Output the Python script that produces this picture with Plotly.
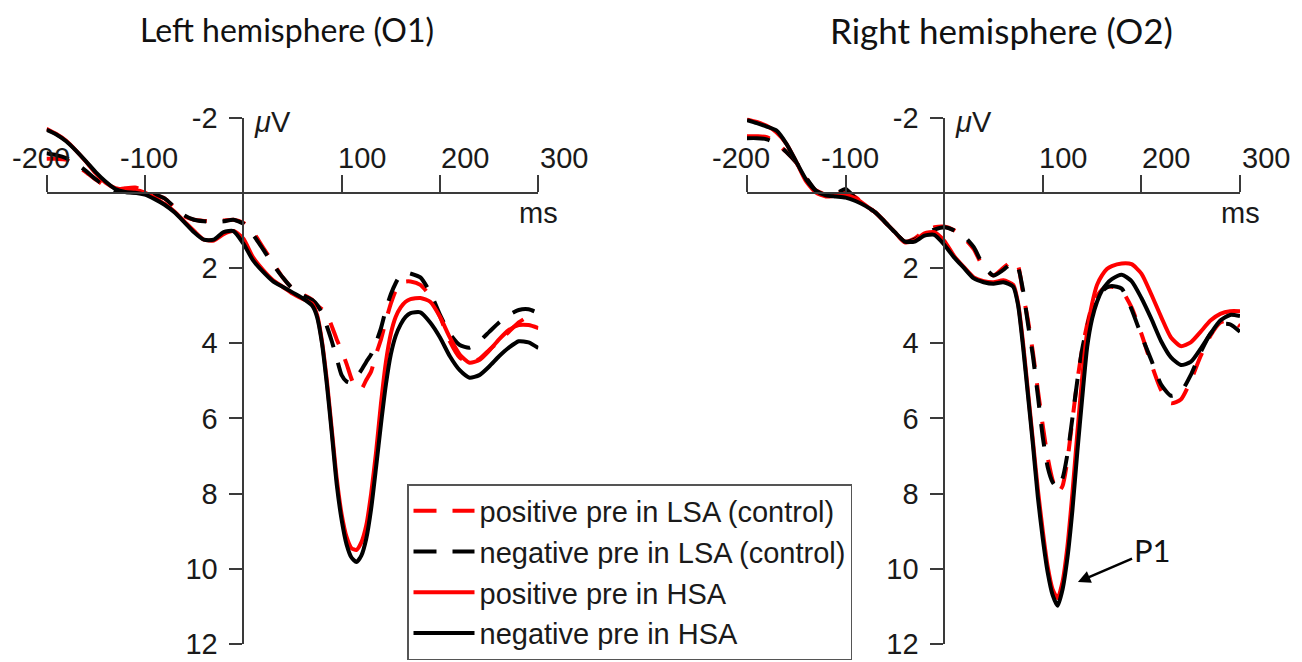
import plotly.graph_objects as go

# ---------------- data ----------------
time_ms = [-200, -190, -180, -170, -160, -150, -140, -130, -120, -110, -100, -90, -80, -70, -60, -50, -40, -30,
           -20, -10, 0, 10, 20, 30, 40, 50, 60,
           70, 75, 80, 85, 90, 95, 100, 105, 110, 115, 120, 125, 130, 135, 140, 145, 150, 155, 160, 165,
           170, 180, 190, 200, 210, 220, 230, 240, 250, 260, 270, 280, 290, 300]

series_names = ["positive pre in LSA (control)", "negative pre in LSA (control)",
                "positive pre in HSA", "negative pre in HSA"]

# Left hemisphere (O1)
left_pos_lsa = [-0.90, -0.90, -0.88, -0.72, -0.55, -0.35, -0.17, -0.08, -0.12, -0.14, -0.05, 0.06, 0.15, 0.40, 0.62,
                0.72, 0.75, 0.76, 0.74, 0.72, 0.80, 1.05, 1.45, 1.85, 2.25, 2.55, 2.70,
                2.85, 3.00, 3.10, 3.25, 3.55, 3.90, 4.20, 4.55, 4.95, 5.20, 5.22, 4.98, 4.75, 4.30, 3.90, 3.40,
                2.95, 2.60, 2.42, 2.36,
                2.36, 2.45, 2.75, 3.30, 3.95, 4.38, 4.52, 4.42, 4.18, 3.95, 3.70, 3.45, 3.30, 3.32]
left_neg_lsa = [-1.05, -1.00, -0.92, -0.78, -0.58, -0.36, -0.18, -0.05, -0.02, 0.00, 0.03, 0.05, 0.15, 0.38, 0.60,
                0.72, 0.76, 0.78, 0.76, 0.72, 0.82, 1.12, 1.50, 1.90, 2.25, 2.55, 2.72,
                2.85, 2.98, 3.20, 3.55, 3.95, 4.40, 4.85, 5.02, 5.05, 4.90, 4.72, 4.50, 4.30, 3.98, 3.60, 3.10,
                2.70, 2.40, 2.18, 2.12,
                2.15, 2.25, 2.65, 3.25, 3.75, 4.05, 4.12, 3.95, 3.70, 3.45, 3.25, 3.12, 3.10, 3.20]
left_pos_hsa = [-1.70, -1.56, -1.38, -1.12, -0.83, -0.52, -0.27, -0.12, -0.08, -0.07, 0.00, 0.14, 0.30, 0.50, 0.76,
                1.02, 1.25, 1.27, 1.10, 1.02, 1.22, 1.72, 2.05, 2.32, 2.50, 2.68, 2.82,
                2.95, 3.25, 3.95, 5.00, 6.30, 7.60, 8.55, 9.15, 9.45, 9.50, 9.30, 8.85, 8.00, 6.90, 5.60, 4.50,
                3.75, 3.30, 3.05, 2.90,
                2.83, 2.80, 2.90, 3.30, 3.85, 4.30, 4.52, 4.45, 4.20, 3.90, 3.65, 3.52, 3.52, 3.60]
left_neg_hsa = [-1.67, -1.55, -1.37, -1.12, -0.84, -0.55, -0.30, -0.10, -0.02, 0.00, 0.05, 0.17, 0.32, 0.52, 0.78,
                1.05, 1.25, 1.25, 1.05, 1.02, 1.35, 1.80, 2.10, 2.35, 2.50, 2.65, 2.80,
                3.00, 3.30, 4.00, 5.10, 6.40, 7.75, 8.70, 9.35, 9.70, 9.82, 9.65, 9.20, 8.40, 7.30, 6.15, 5.10,
                4.30, 3.80, 3.50, 3.30,
                3.20, 3.18, 3.45, 3.85, 4.35, 4.72, 4.92, 4.85, 4.62, 4.35, 4.12, 3.95, 3.98, 4.13]

# Right hemisphere (O2)
right_pos_lsa = [-1.50, -1.50, -1.48, -1.32, -1.08, -0.80, -0.38, -0.06, 0.05, 0.04, -0.02, 0.12, 0.33, 0.52, 0.78,
                 1.05, 1.30, 1.22, 1.02, 0.92, 0.90, 1.00, 1.20, 1.50, 2.00, 2.20, 2.00,
                 1.80, 1.95, 2.70, 3.40, 4.25, 5.25, 6.20, 7.05, 7.65, 7.98, 7.80, 7.10, 6.05, 5.00, 4.15, 3.50,
                 3.00, 2.75, 2.58, 2.50,
                 2.50, 2.60, 3.05, 3.75, 4.55, 5.25, 5.60, 5.50, 5.00, 4.35, 3.80, 3.45, 3.40, 3.55]
right_neg_lsa = [-1.45, -1.45, -1.42, -1.30, -1.08, -0.80, -0.40, -0.05, 0.06, 0.02, -0.10, 0.15, 0.35, 0.52, 0.78,
                 1.05, 1.30, 1.25, 1.08, 0.98, 0.92, 1.00, 1.15, 1.45, 1.95, 2.20, 2.05,
                 1.85, 2.00, 2.60, 3.50, 4.35, 5.40, 6.50, 7.30, 7.70, 7.85, 7.60, 6.95, 6.00, 5.00, 4.15, 3.55,
                 3.10, 2.82, 2.62, 2.52,
                 2.48, 2.55, 3.10, 3.80, 4.45, 5.10, 5.40, 5.30, 4.85, 4.25, 3.75, 3.50, 3.50, 3.70]
right_pos_hsa = [-1.95, -1.88, -1.78, -1.60, -1.30, -0.82, -0.30, 0.00, 0.10, 0.08, 0.06, 0.15, 0.33, 0.52, 0.78,
                 1.05, 1.32, 1.28, 1.08, 1.05, 1.28, 1.68, 1.98, 2.25, 2.35, 2.38, 2.33,
                 2.45, 2.95, 4.00, 5.30, 6.60, 7.90, 9.00, 9.95, 10.55, 10.78, 10.35, 9.40, 8.00, 6.40, 4.90, 3.70,
                 2.95, 2.45, 2.20, 2.03,
                 1.95, 1.88, 1.90, 2.15, 2.70, 3.30, 3.85, 4.08, 3.98, 3.70, 3.40, 3.22, 3.15, 3.15]
right_neg_hsa = [-1.93, -1.85, -1.76, -1.65, -1.30, -0.82, -0.35, -0.05, 0.07, 0.10, 0.13, 0.22, 0.35, 0.52, 0.78,
                 1.05, 1.30, 1.30, 1.14, 1.12, 1.38, 1.72, 2.00, 2.28, 2.38, 2.42, 2.38,
                 2.50, 3.00, 4.10, 5.40, 6.70, 8.10, 9.20, 10.10, 10.70, 10.98, 10.55, 9.70, 8.45, 6.90, 5.45, 4.10,
                 3.35, 2.90, 2.60, 2.42,
                 2.30, 2.18, 2.35, 2.80, 3.35, 3.95, 4.38, 4.58, 4.50, 4.15, 3.75, 3.40, 3.25, 3.28]

x_tick_vals = [-200, -100, 100, 200, 300]
y_tick_vals = [-2, 2, 4, 6, 8, 10, 12]
y_tick_text = ["-2", "2", "4", "6", "8", "10", "12"]
panel_titles = ["Left hemisphere (O1)", "Right hemisphere (O2)"]

# ---------------- layout / style ----------------
W, H = 1302, 662
X_RANGE = [-200, 300]
Y_RANGE = [12, -2]          # reversed: negative up
Y_TOP_PX, Y_BOT_PX = 117.5, 644.0
ydom = [1 - Y_BOT_PX / H, 1 - Y_TOP_PX / H]
xdoms = [[46.5 / W, 538.4 / W], [747.0 / W, 1240.0 / W]]
title_centers_px = [286.5, 1001.5]
title_sizes = [32, 35]

AX_COLOR = "#3a3a3a"
TXT_COLOR = "#1a1a1a"
TICK_FONT = dict(family="Liberation Sans, Arial", size=29, color=TXT_COLOR)
colors = ["#ff0000", "#000000", "#ff0000", "#000000"]
dashes = ["23px,16px", "23px,16px", "solid", "solid"]
xtick_label_shift = [-6, 4, 20, 25, 26]

# paper position of y=0 inside the vertical domain
x_axis_pos = ydom[1] - (0 - Y_RANGE[1]) / (Y_RANGE[0] - Y_RANGE[1]) * (ydom[1] - ydom[0])

fig = go.Figure()
panels = [
    ([left_pos_lsa, left_neg_lsa, left_pos_hsa, left_neg_hsa], "x", "y", True),
    ([right_pos_lsa, right_neg_lsa, right_pos_hsa, right_neg_hsa], "x2", "y2", False),
]
for series, xa, ya, show in panels:
    for name, vals, col, dsh in zip(series_names, series, colors, dashes):
        fig.add_trace(go.Scatter(
            x=time_ms, y=vals, mode="lines", name=name, legendgroup=name, showlegend=show,
            line=dict(color=col, width=4, dash=dsh, shape="spline", smoothing=0.6),
            xaxis=xa, yaxis=ya, hoverinfo="skip"))

layout_axes = {}
for i, xd in enumerate(xdoms):
    sfx = "" if i == 0 else str(i + 1)
    y_axis_pos = xd[0] + (0 - X_RANGE[0]) / (X_RANGE[1] - X_RANGE[0]) * (xd[1] - xd[0])
    layout_axes["xaxis" + sfx] = dict(
        domain=xd, range=X_RANGE, anchor="free", position=x_axis_pos, side="top",
        showline=True, linecolor=AX_COLOR, linewidth=1.6, ticks="outside", ticklen=17, tickwidth=1.6,
        tickcolor=AX_COLOR, tickvals=x_tick_vals, showticklabels=False, automargin=False,
        showgrid=False, zeroline=False, fixedrange=True)
    layout_axes["yaxis" + sfx] = dict(
        domain=ydom, range=Y_RANGE, anchor="free", position=y_axis_pos, side="left",
        showline=True, linecolor=AX_COLOR, linewidth=1.6, ticks="outside", ticklen=13, tickwidth=1.6,
        tickcolor=AX_COLOR, tickvals=y_tick_vals, ticktext=y_tick_text, tickfont=TICK_FONT,
        ticklabelstandoff=6, automargin=False, showgrid=False, zeroline=False, fixedrange=True)

fig.update_layout(
    width=W, height=H, margin=dict(l=0, r=0, t=0, b=0, pad=0, autoexpand=False),
    paper_bgcolor="white", plot_bgcolor="rgba(0,0,0,0)",
    showlegend=True,
    legend=dict(x=407 / W, y=1 - 484 / H, xanchor="left", yanchor="top",
                font=dict(family="Liberation Sans, Arial", size=29, color=TXT_COLOR),
                bordercolor="#555555", borderwidth=1.5, bgcolor="white",
                itemwidth=61, tracegroupgap=0),
    **layout_axes)

annotations = []
for i in range(2):
    xr = "x" if i == 0 else "x2"
    yr = "y" if i == 0 else "y2"
    # x tick labels (above the axis line)
    for v, sh in zip(x_tick_vals, xtick_label_shift):
        annotations.append(dict(x=v, y=0, xref=xr, yref=yr, text=str(v), showarrow=False,
                                font=TICK_FONT, xanchor="center", yanchor="middle", xshift=sh, yshift=35))
    # unit labels
    annotations.append(dict(x=0, y=-2, xref=xr, yref=yr, text="<i>μ</i>V", showarrow=False,
                            font=TICK_FONT, xanchor="left", yanchor="middle", xshift=9, yshift=-5))
    annotations.append(dict(x=300, y=0, xref=xr, yref=yr, text="ms", showarrow=False,
                            font=TICK_FONT, xanchor="center", yanchor="middle", yshift=-20))
    # panel titles
    annotations.append(dict(x=title_centers_px[i] / W, y=1 - 30 / H, xref="paper", yref="paper",
                            text=panel_titles[i], showarrow=False,
                            font=dict(family="Lato", size=title_sizes[i], color="#111111"),
                            xanchor="center", yanchor="middle"))

# P1 arrow in the right panel
annotations.append(dict(x=135.6, y=10.35, xref="x2", yref="y2", ax=210.8, ay=9.5, axref="x2", ayref="y2",
                        text="P1", showarrow=True, arrowhead=2, arrowsize=1, arrowwidth=2.5,
                        arrowcolor="#000000", font=dict(family="Lato", size=31, color="#111111"),
                        standoff=0))
fig.update_layout(annotations=annotations)

fig.write_html("out.html", config={"displayModeBar": False},
               post_script="document.body.style.margin='0';document.body.style.overflow='hidden';")
